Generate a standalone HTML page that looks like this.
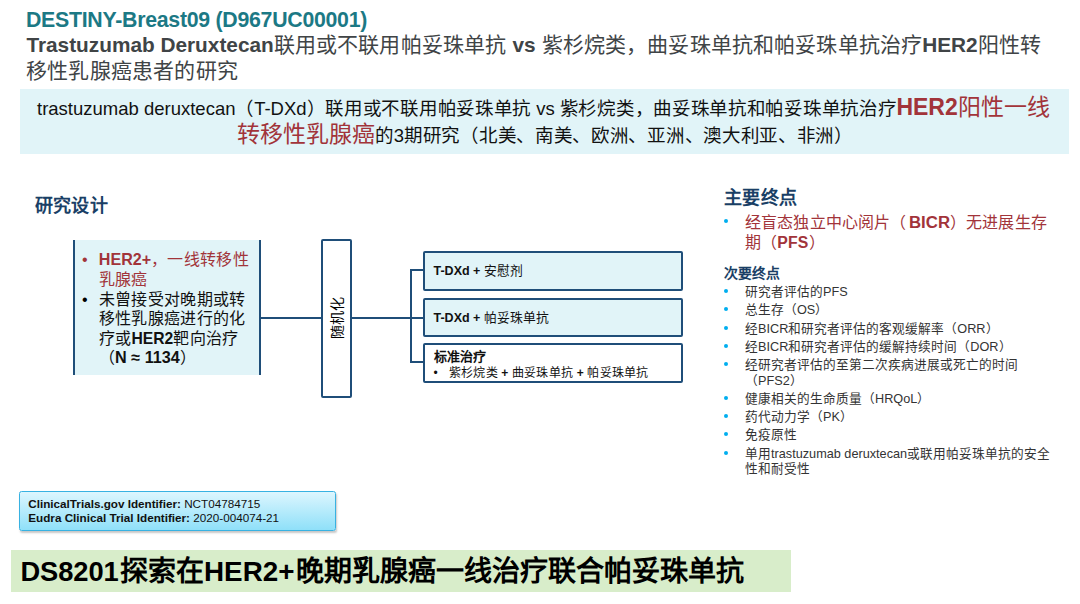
<!DOCTYPE html>
<html lang="zh-CN">
<head>
<meta charset="utf-8">
<style>
html,body{margin:0;padding:0;background:#fff;}
body{width:1080px;height:604px;position:relative;overflow:hidden;font-family:"Liberation Sans",sans-serif;}
.a{position:absolute;white-space:nowrap;}
b{font-weight:bold;}
.L{letter-spacing:0;}
.red,.lt.red,.bul.red{color:#A2343A;}
.navyt{color:#1A3F66;}
#t1{left:26px;top:6.5px;font-size:21.3px;letter-spacing:-0.27px;line-height:26px;font-weight:bold;color:#1C7985;}
#t2{left:26.4px;top:32px;font-size:21px;letter-spacing:0.15px;line-height:26px;color:#404446;}
#t2 b{font-size:20.8px;letter-spacing:0;}
#t3{left:26px;top:58px;font-size:21px;letter-spacing:0.2px;line-height:26px;color:#404446;}
#box1{left:19.5px;top:89px;width:1049.5px;height:64.5px;background:#E1F4F8;}
#b1l1{left:37px;top:95px;font-size:18.5px;letter-spacing:-0.3px;line-height:24px;color:#111;}
#b1l2{left:237px;top:122px;font-size:18.5px;letter-spacing:-0.3px;line-height:24px;color:#111;}
.big{font-size:23px;letter-spacing:0;font-weight:normal;color:#A2343A;}
#design{left:34.5px;top:193.5px;font-size:18px;letter-spacing:0.4px;line-height:24px;font-weight:bold;color:#1A3F66;}
#lbox{left:72.5px;top:240px;width:184.5px;height:135px;background:#E1F4F8;border-left:2px solid #1F4E79;border-right:2px solid #1F4E79;}
.ln{position:absolute;background:#1F4E79;}
#rand{left:321px;top:239px;width:27px;height:155px;border:2px solid #1F4E79;border-radius:2px;background:#fff;}
#randt{left:337px;top:318px;font-size:14px;line-height:14px;color:#111;transform:translate(-50%,-50%) rotate(-90deg);font-weight:normal;color:#000;}
.arm{position:absolute;left:423px;width:256px;border:2px solid #1F4E79;border-radius:2px;}
.armt{position:absolute;left:433.5px;font-size:12.8px;line-height:16px;color:#111;white-space:nowrap;}
.armt b{font-size:12.5px;}
.lt{position:absolute;left:98.8px;font-size:16px;letter-spacing:0.3px;line-height:19.5px;color:#111;white-space:nowrap;}
.lt b{font-size:15.7px;letter-spacing:0;}
.bul{position:absolute;font-size:16px;line-height:19.5px;}
#primary{left:724px;top:185.5px;font-size:18px;letter-spacing:0.3px;line-height:24px;font-weight:bold;color:#1A3F66;}
.p1{position:absolute;left:745px;font-size:16px;letter-spacing:0.15px;line-height:20px;color:#A2343A;white-space:nowrap;}
.p1 b{font-size:15.8px;}
.cb{position:absolute;width:4px;height:4px;border-radius:50%;background:#00AEEF;}
#secondary{left:724px;top:263.5px;font-size:13.9px;line-height:18px;font-weight:bold;color:#1A3F66;}
.si{position:absolute;left:745px;font-size:12.7px;line-height:16px;color:#333;white-space:nowrap;}
#idbox{left:18.5px;top:491px;width:315px;height:37.5px;border:1.5px solid #38B2E2;border-radius:2.5px;background:linear-gradient(#DDF6FE,#8FE0F9);box-shadow:1px 2px 2px rgba(0,0,0,0.22);}
#idt{left:28.3px;top:496.5px;font-size:11.7px;line-height:14.2px;color:#111;}
#banner{left:11px;top:550px;width:780px;height:42px;background:#D8EDCA;}
#bant{left:21px;top:554px;font-size:28px;letter-spacing:0;line-height:36px;font-weight:bold;color:#000;}
#bant .L{font-size:26.5px;}
</style>
</head>
<body>
<div class="a" id="t1">DESTINY-Breast09 (D967UC00001)</div>
<div class="a" id="t2"><b>Trastuzumab Deruxtecan</b>联用或不联用帕妥珠单抗 <b>vs</b> 紫杉烷类，曲妥珠单抗和帕妥珠单抗治疗<b>HER2</b>阳性转</div>
<div class="a" id="t3">移性乳腺癌患者的研究</div>

<div class="a" id="box1"></div>
<div class="a" id="b1l1"><span class="L">trastuzumab deruxtecan</span>（<span class="L">T-DXd</span>）联用或不联用帕妥珠单抗<span class="L"> vs </span>紫杉烷类，曲妥珠单抗和帕妥珠单抗治疗<span class="big"><b>HER2</b>阳性一线</span></div>
<div class="a" id="b1l2"><span class="big">转移性乳腺癌</span>的<span class="L">3</span>期研究（北美、南美、欧洲、亚洲、澳大利亚、非洲）</div>

<div class="a" id="design">研究设计</div>

<div class="a" id="lbox"></div>
<div class="bul red" style="left:82px;top:250px;">•</div>
<div class="lt red" style="top:250px;"><b style="font-size:16.1px;">HER2+</b>，一线转移性</div>
<div class="lt red" style="top:270px;">乳腺癌</div>
<div class="bul" style="left:82px;top:289.5px;">•</div>
<div class="lt" style="top:289.5px;">未曾接受对晚期或转</div>
<div class="lt" style="top:309px;">移性乳腺癌进行的化</div>
<div class="lt" style="top:328.5px;">疗或<b>HER2</b>靶向治疗</div>
<div class="lt" style="top:348px;">（<b style="font-size:16.2px;">N ≈ 1134</b>）</div>

<div class="ln" style="left:260px;top:317px;width:62px;height:2px;"></div>
<div class="a" id="rand"></div>
<div class="a" id="randt">随机化</div>
<div class="ln" style="left:351px;top:317px;width:60px;height:2px;"></div>
<div class="ln" style="left:410px;top:269px;width:2px;height:94px;"></div>
<div class="ln" style="left:410px;top:269px;width:14px;height:2px;"></div>
<div class="ln" style="left:410px;top:317px;width:14px;height:2px;"></div>
<div class="ln" style="left:410px;top:361px;width:14px;height:2px;"></div>

<div class="arm" style="top:251px;height:36px;background:#E1F4F8;"></div>
<div class="arm" style="top:298px;height:35px;background:#E1F4F8;"></div>
<div class="arm" style="top:343px;height:36px;background:#fff;"></div>
<div class="armt" style="top:263px;"><b>T-DXd +</b> 安慰剂</div>
<div class="armt" style="top:310px;"><b>T-DXd +</b> 帕妥珠单抗</div>
<div class="armt" style="top:349px;font-size:13px;"><b style="font-size:13px;">标准治疗</b></div>
<div class="armt" style="top:364.5px;font-size:12px;letter-spacing:0.2px;"><span style="display:inline-block;width:15.5px;">•</span>紫杉烷类 <b style="font-size:12px;">+</b> 曲妥珠单抗 <b style="font-size:12px;">+</b> 帕妥珠单抗</div>

<div class="a" id="primary">主要终点</div>
<div class="cb" style="left:723.5px;top:218.5px;"></div>
<div class="p1" style="top:212.5px;">经盲态独立中心阅片（<b style="font-size:16.8px;margin-left:2.5px;letter-spacing:0;">BICR</b>）无进展生存</div>
<div class="p1" style="top:232.5px;">期（<b>PFS</b>）</div>

<div class="a" id="secondary">次要终点</div>
<div class="cb" style="left:723.5px;top:289px;"></div><div class="si" style="top:284.0px;">研究者评估的PFS</div>
<div class="cb" style="left:723.5px;top:307.3px;"></div><div class="si" style="top:302.3px;">总生存（OS）</div>
<div class="cb" style="left:723.5px;top:325.6px;"></div><div class="si" style="top:320.6px;">经BICR和研究者评估的客观缓解率（ORR）</div>
<div class="cb" style="left:723.5px;top:343.9px;"></div><div class="si" style="top:338.9px;">经BICR和研究者评估的缓解持续时间（DOR）</div>
<div class="cb" style="left:723.5px;top:362.2px;"></div><div class="si" style="top:357.2px;">经研究者评估的至第二次疾病进展或死亡的时间</div>
<div class="si" style="top:372.8px;">（PFS2）</div>
<div class="cb" style="left:723.5px;top:395.8px;"></div><div class="si" style="top:390.8px;">健康相关的生命质量（HRQoL）</div>
<div class="cb" style="left:723.5px;top:414.1px;"></div><div class="si" style="top:409.1px;">药代动力学（PK）</div>
<div class="cb" style="left:723.5px;top:432.4px;"></div><div class="si" style="top:427.4px;">免疫原性</div>
<div class="cb" style="left:723.5px;top:450.7px;"></div><div class="si" style="top:445.7px;">单用trastuzumab deruxtecan或联用帕妥珠单抗的安全</div>
<div class="si" style="top:461.3px;">性和耐受性</div>

<div class="a" id="idbox"></div>
<div class="a" id="idt"><b>ClinicalTrials.gov Identifier:</b> NCT04784715<br><b>Eudra Clinical Trial Identifier:</b> 2020-004074-21</div>

<div class="a" id="banner"></div>
<div class="a" id="bant"><span class="L" style="font-size:27.3px;letter-spacing:-0.1px;margin-right:1.5px;margin-left:-0.5px;">DS8201</span>探索在<span class="L" style="font-size:27.8px;margin-right:1.5px;">HER2+</span>晚期乳腺癌一线治疗联合帕妥珠单抗</div>
</body>
</html>
